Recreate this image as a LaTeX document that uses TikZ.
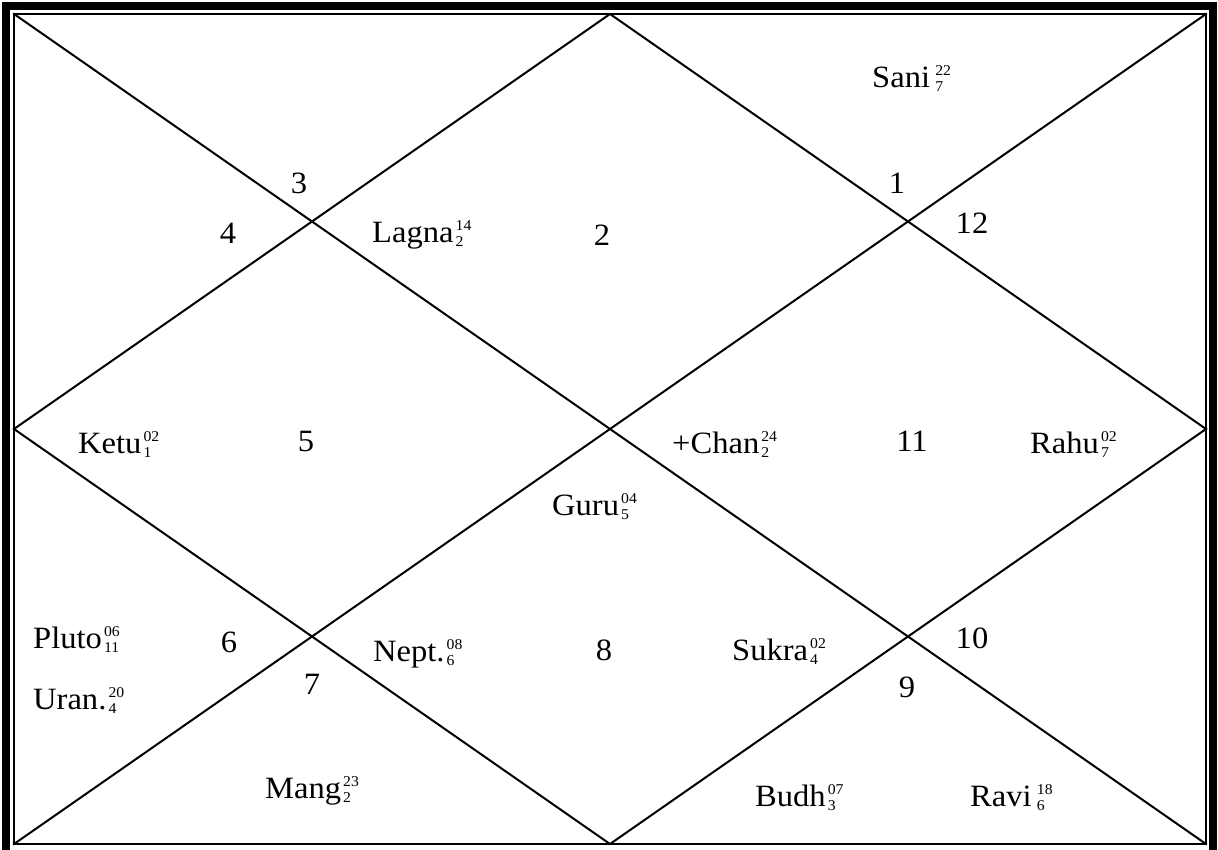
\documentclass[tikz,border=0pt]{standalone}
\usepackage{graphicx}
\usepackage{fontspec}
\setmainfont{Liberation Serif}
\newcommand\sx[1]{\scalebox{1.05}[1]{#1}}
\newcommand\pl[3]{\sx{#1\kern2pt\raisebox{-4pt}{\fontsize{15}{16}\selectfont\begin{tabular}[b]{@{}l@{}}#2\\#3\end{tabular}}}}
\begin{document}
\begin{tikzpicture}[x=1pt,y=-1pt,
  txt/.style={inner sep=0pt,font=\fontsize{31}{34}\selectfont},
  pln/.style={txt,anchor=base west},
  num/.style={txt,anchor=center},
  chartline/.style={line width=2pt,line cap=rect}]
\useasboundingbox (0,0) rectangle (1218,849);
\clip (0,0) rectangle (1218,849);
\fill[white] (0,0) rectangle (1218,849);
% borders
\draw[line width=8pt] (6,6) rectangle (1213,855);
\draw[line width=2pt] (14,14) rectangle (1206,844);
% corners and midpoints
\coordinate (tl) at (14,14);
\coordinate (tr) at (1206,14);
\coordinate (bl) at (14,844);
\coordinate (br) at (1206,844);
\coordinate (tm) at (610,14);
\coordinate (bm) at (610,844);
\coordinate (lm) at (14,429);
\coordinate (rm) at (1206,429);
\draw[chartline] (tl) -- (br);
\draw[chartline] (tr) -- (bl);
\draw[chartline] (tm) -- (rm) -- (bm) -- (lm) -- cycle;
% house numbers
\node[num] (h3) at (299,183) {\sx{3}};
\node[num] (h4) at (228,233) {\sx{4}};
\node[num] (h2) at (602,235) {\sx{2}};
\node[num] (h1) at (897,183) {\sx{1}};
\node[num] (h12) at (972,223) {\sx{12}};
\node[num] (h5) at (306,441) {\sx{5}};
\node[num] (h11) at (912,441) {\sx{11}};
\node[num] (h6) at (229,642) {\sx{6}};
\node[num] (h8) at (604,650) {\sx{8}};
\node[num] (h10) at (972,638) {\sx{10}};
\node[num] (h7) at (312,684) {\sx{7}};
\node[num] (h9) at (907,687) {\sx{9}};
% planets
\node[pln] (sani) at (872,87) {\pl{Sani\kern3pt}{22}{7}};
\node[pln] (lagna) at (372,242) {\pl{Lagna}{14}{2}};
\node[pln] (ketu) at (78,453) {\pl{Ketu}{02}{1}};
\node[pln] (chan) at (672,453) {\pl{+Chan}{24}{2}};
\node[pln] (rahu) at (1030,453) {\pl{Rahu}{02}{7}};
\node[pln] (guru) at (552,515) {\pl{Guru}{04}{5}};
\node[pln] (pluto) at (33,648) {\pl{Pluto}{06}{11}};
\node[pln] (uran) at (33,709) {\pl{Uran.}{20}{4}};
\node[pln] (nept) at (373,661) {\pl{Nept.}{08}{6}};
\node[pln] (sukra) at (732,660) {\pl{Sukra}{02}{4}};
\node[pln] (mang) at (265,798) {\pl{Mang}{23}{2}};
\node[pln] (budh) at (755,806) {\pl{Budh}{07}{3}};
\node[pln] (ravi) at (970,806) {\pl{Ravi\kern3pt}{18}{6}};
\end{tikzpicture}
\end{document}
